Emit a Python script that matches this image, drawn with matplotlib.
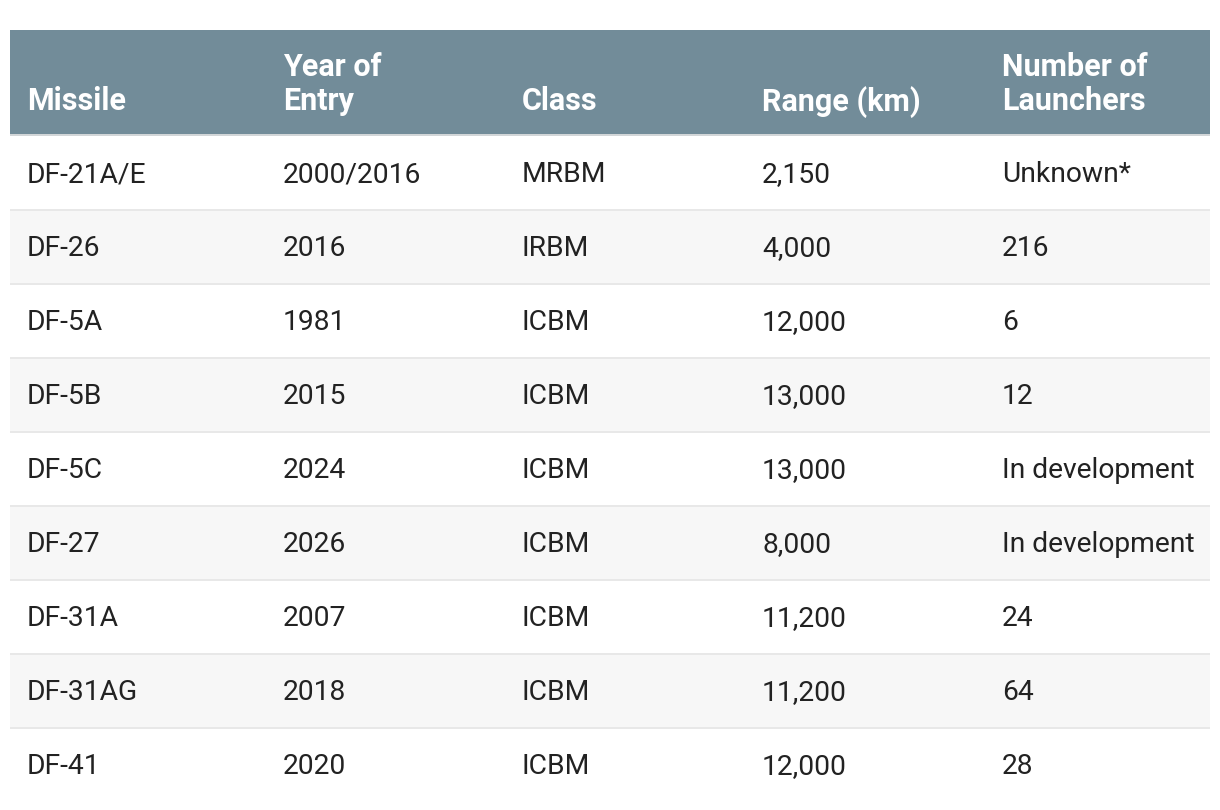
import matplotlib.pyplot as plt
from matplotlib.patches import Rectangle

# dados da tabela
headers = ['Missile', 'Year of\nEntry', 'Class', 'Range (km)', 'Number of\nLaunchers']
missiles = ['DF-21A/E', 'DF-26', 'DF-5A', 'DF-5B', 'DF-5C', 'DF-27', 'DF-31A', 'DF-31AG', 'DF-41']
years = ['2000/2016', '2016', '1981', '2015', '2024', '2026', '2007', '2018', '2020']
classes = ['MRBM', 'IRBM', 'ICBM', 'ICBM', 'ICBM', 'ICBM', 'ICBM', 'ICBM', 'ICBM']
ranges_km = ['2,150', '4,000', '12,000', '13,000', '13,000', '8,000', '11,200', '11,200', '12,000']
launchers = ['Unknown*', '216', '6', '12', 'In development', 'In development', '24', '64', '28']

colunas = [missiles, years, classes, ranges_km, launchers]

plt.rcParams['font.family'] = ['Roboto', 'DejaVu Sans']

fig = plt.figure(figsize=(12.2, 8.1), dpi=100)
ax = fig.add_axes([0, 0, 1, 1])
ax.set_xlim(0, 1220)
ax.set_ylim(810, 0)
ax.axis('off')

# layout em pixels
esq, dir = 10, 1210
topo, cab_fim = 30, 133.5
linha_h = 74
x_col = [27, 283, 522, 762, 1002]

# cabecalho
ax.add_patch(Rectangle((esq, topo), dir - esq, cab_fim - topo, color='#728c99', lw=0))
ax.add_patch(Rectangle((esq, cab_fim), dir - esq, 2.5, color='#d2d6d8', lw=0))
for x, h in zip(x_col, headers):
    ax.text(x, 110.5, h, fontsize=22, fontweight='bold', color='white',
            ha='left', va='baseline', linespacing=1.18)

# linhas
inicio = cab_fim + 2.5
for i in range(len(missiles)):
    y0 = inicio + i * linha_h
    if i % 2 == 1:
        ax.add_patch(Rectangle((esq, y0), dir - esq, linha_h, color='#f7f7f7', lw=0))
    if i > 0:
        ax.add_patch(Rectangle((esq, y0 - 1), dir - esq, 2, color='#e8e8e8', lw=0))
    for x, col in zip(x_col, colunas):
        ax.text(x, y0 + linha_h / 2 + 9, col[i], fontsize=20.3, color='#222222',
                ha='left', va='baseline')

fig.savefig('out.png', dpi=100)
